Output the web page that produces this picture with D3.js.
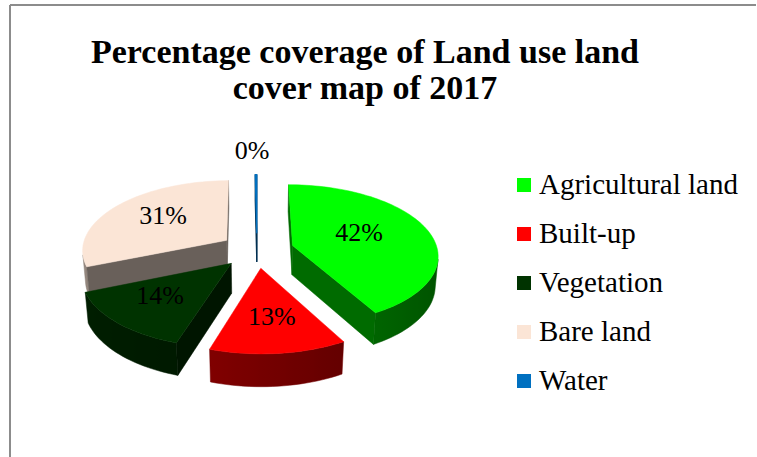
<!DOCTYPE html>
<html>
<head>
<meta charset="utf-8">
<title>Land use land cover 2017</title>
<script src="https://cdn.jsdelivr.net/npm/d3@7"></script>
<style>
  body { margin: 0; background: #fff; }
  text { font-family: "Liberation Serif", "DejaVu Serif", serif; }
</style>
</head>
<body>
<script>
// data
var categories = ["Agricultural land", "Built-up", "Vegetation", "Bare land", "Water"];
var values = [42, 13, 14, 31, 0.2];
var labels = ["42%", "13%", "14%", "31%", "0%"];
var colors = ["#00ff00", "#ff0000", "#003300", "#fbe5d6", "#0070c0"];

var width = 757, height = 457;

var svg = d3.select("body").append("svg")
  .attr("width", width)
  .attr("height", height);
var defs = svg.append("defs");

// frame (only left and top edges show)
svg.append("line").attr("x1", 10).attr("y1", 5).attr("x2", 10).attr("y2", height)
  .attr("stroke", "#8c8c8c").attr("stroke-width", 2);
svg.append("line").attr("x1", 10).attr("y1", 5).attr("x2", 756).attr("y2", 5)
  .attr("stroke", "#8c8c8c").attr("stroke-width", 2);

// title
var title = svg.append("text")
  .attr("text-anchor", "middle")
  .attr("font-weight", "bold")
  .attr("font-size", 34)
  .attr("fill", "#000");
title.append("tspan").attr("x", 365).attr("y", 63).text("Percentage coverage of Land use land");
title.append("tspan").attr("x", 365).attr("y", 99).text("cover map of 2017");

// 3d pie settings
var cx = 257, cy = 250;   // centre of the pie
var R = 145;              // radius
var H = 34;               // thickness
var E = 37;               // explosion
var phi = 28.7 * Math.PI / 180;  // elevation
var D = 1000;             // camera distance

var cosP = Math.cos(phi), sinP = Math.sin(phi);
var cam = [0, -D * cosP, D * sinP];

function project(p) {
  var zc = -p[1] * cosP + p[2] * sinP;
  var s = D / (D - zc);
  return [cx + p[0] * s, cy - (p[1] * sinP + p[2] * cosP) * s];
}

function shade(c, f) {
  var r = d3.rgb(c);
  return d3.rgb(r.r * f, r.g * f, r.b * f).formatHex();
}

function visible(pts, n) {
  var m = [0, 0, 0];
  pts.forEach(function(p) { m[0] += p[0]; m[1] += p[1]; m[2] += p[2]; });
  m = m.map(function(v) { return v / pts.length; });
  return n[0] * (cam[0] - m[0]) + n[1] * (cam[1] - m[1]) + n[2] * (cam[2] - m[2]) > 0;
}

function sideShade(a) { return 0.46 - 0.14 * Math.sin(a); }

var pie = d3.pie().sort(null).value(function(d) { return d; });
var arcs = pie(values);

var line = d3.line();

var slices = arcs.map(function(d, i) {
  var a0 = d.startAngle, a1 = d.endAngle, mid = (a0 + a1) / 2;
  var ox = E * Math.sin(mid), oy = E * Math.cos(mid);
  var n = Math.max(2, Math.ceil((a1 - a0) / (2 * Math.PI / 180)));
  var angs = d3.range(n + 1).map(function(k) { return a0 + (a1 - a0) * k / n; });
  var rim = function(a, z) { return [ox + R * Math.sin(a), oy + R * Math.cos(a), z]; };
  var apexT = [ox, oy, 0], apexB = [ox, oy, -H];
  var faces = [];

  // outer side: keep the steps that face the camera, one path with a gradient
  var visAng = [];
  for (var k = 0; k < n; k++) {
    var q = [rim(angs[k], 0), rim(angs[k + 1], 0), rim(angs[k + 1], -H), rim(angs[k], -H)];
    var am = (angs[k] + angs[k + 1]) / 2;
    if (visible(q, [Math.sin(am), Math.cos(am), 0])) {
      if (!visAng.length) visAng.push(angs[k]);
      visAng.push(angs[k + 1]);
    }
  }
  if (visAng.length) {
    var pts = visAng.map(function(a) { return rim(a, 0); })
      .concat(visAng.slice().reverse().map(function(a) { return rim(a, -H); }));
    var xs = visAng.map(function(a) { return project(rim(a, 0))[0]; });
    var xmin = d3.min(xs), xmax = d3.max(xs);
    var grad = defs.append("linearGradient")
      .attr("id", "side" + i)
      .attr("gradientUnits", "userSpaceOnUse")
      .attr("x1", xmin).attr("x2", xmax).attr("y1", 0).attr("y2", 0);
    var stops = visAng.map(function(a, j) {
      return { off: xmax > xmin ? (xs[j] - xmin) / (xmax - xmin) : 0, col: shade(colors[i], sideShade(a)) };
    }).sort(function(a, b) { return a.off - b.off; });
    grad.selectAll("stop").data(stops).enter().append("stop")
      .attr("offset", function(s) { return s.off; })
      .attr("stop-color", function(s) { return s.col; });
    faces.push({ pts: pts, fill: "url(#side" + i + ")", stroke: shade(colors[i], sideShade(mid)) });
  }
  // cut faces
  var s0 = [apexT, rim(a0, 0), rim(a0, -H), apexB];
  if (visible(s0, [-Math.cos(a0), Math.sin(a0), 0])) faces.push({ pts: s0, fill: shade(colors[i], 0.42) });
  var s1 = [apexT, rim(a1, 0), rim(a1, -H), apexB];
  if (visible(s1, [Math.cos(a1), -Math.sin(a1), 0])) faces.push({ pts: s1, fill: shade(colors[i], 0.42) });
  // top
  var top = [apexT].concat(angs.map(function(a) { return rim(a, 0); }));
  faces.push({ pts: top, fill: colors[i] });

  // label position: centroid of the sector, small slices go outside
  var half = (a1 - a0) / 2, lab;
  if (a1 - a0 < 5 * Math.PI / 180) {
    var p = project(rim(mid, 0));
    lab = [p[0] - 4, p[1] - 25];
  } else {
    var rc = (2 / 3) * R * Math.sin(half) / half;
    var p2 = project([ox + rc * Math.sin(mid), oy + rc * Math.cos(mid), 0]);
    lab = [p2[0], p2[1] - 5];
  }
  return { i: i, depth: oy, faces: faces, lab: lab };
});

// far slices first
var order = slices.slice().sort(function(a, b) { return b.depth - a.depth; });

var gPie = svg.append("g");
order.forEach(function(s) {
  var g = gPie.append("g").attr("class", "slice");
  g.selectAll("path")
    .data(s.faces)
    .enter()
    .append("path")
    .attr("d", function(f) { return line(f.pts.map(project)) + "Z"; })
    .attr("fill", function(f) { return f.fill; })
    .attr("stroke", function(f) { return f.stroke || f.fill; })
    .attr("stroke-width", s.i === 4 ? 1.2 : 0.5)
    .attr("stroke-linejoin", "round");
});

// data labels
svg.append("g").selectAll("text")
  .data(slices)
  .enter()
  .append("text")
  .attr("x", function(s) { return s.lab[0]; })
  .attr("y", function(s) { return s.lab[1]; })
  .attr("dy", "0.35em")
  .attr("text-anchor", "middle")
  .attr("font-size", 26)
  .attr("fill", "#000")
  .text(function(s) { return labels[s.i]; });

// legend
var legend = svg.append("g").selectAll("g")
  .data(categories)
  .enter()
  .append("g")
  .attr("transform", function(d, i) { return "translate(517," + (185 + i * 49) + ")"; });
legend.append("rect")
  .attr("x", 0).attr("y", -7)
  .attr("width", 14).attr("height", 14)
  .attr("fill", function(d, i) { return colors[i]; });
legend.append("text")
  .attr("x", 22).attr("y", 9)
  .attr("font-size", 29)
  .attr("fill", "#000")
  .text(function(d) { return d; });
</script>
</body>
</html>
